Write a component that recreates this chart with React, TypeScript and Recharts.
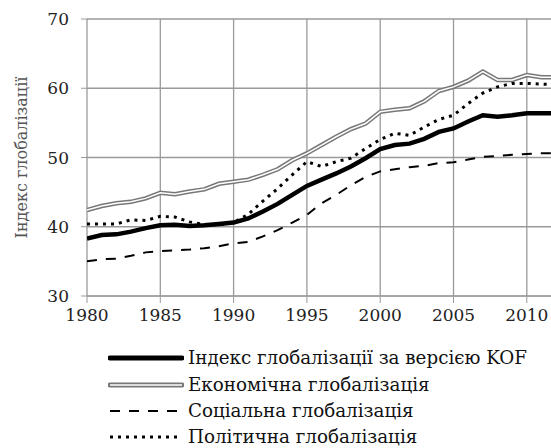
import { LineChart, Line, XAxis, YAxis, CartesianGrid } from 'recharts';

const years = [
  1980, 1981, 1982, 1983, 1984, 1985, 1986, 1987, 1988, 1989,
  1990, 1991, 1992, 1993, 1994, 1995, 1996, 1997, 1998, 1999,
  2000, 2001, 2002, 2003, 2004, 2005, 2006, 2007, 2008, 2009,
  2010, 2011, 2012,
];
const kof = [
  38.3, 38.8, 38.9, 39.3, 39.8, 40.2, 40.3, 40.1, 40.2, 40.4,
  40.6, 41.2, 42.2, 43.3, 44.6, 45.9, 46.8, 47.7, 48.7, 49.9,
  51.2, 51.8, 52.0, 52.7, 53.7, 54.2, 55.2, 56.1, 55.9, 56.1,
  56.4, 56.4, 56.4,
];
const economic = [
  42.4, 43.0, 43.4, 43.6, 44.1, 44.9, 44.7, 45.1, 45.4, 46.2,
  46.5, 46.8, 47.5, 48.3, 49.6, 50.6, 51.8, 53.0, 54.1, 54.9,
  56.6, 56.9, 57.1, 58.1, 59.6, 60.2, 61.1, 62.4, 61.2, 61.2,
  61.9, 61.6, 61.6,
];
const social = [
  35.0, 35.3, 35.4, 35.8, 36.3, 36.5, 36.6, 36.7, 36.9, 37.2,
  37.6, 37.8, 38.6, 39.5, 40.6, 41.7, 43.4, 44.6, 46.0, 47.2,
  48.0, 48.3, 48.6, 48.8, 49.2, 49.3, 49.7, 50.1, 50.2, 50.4,
  50.5, 50.6, 50.6,
];
const political = [
  40.4, 40.4, 40.4, 41.0, 40.9, 41.5, 41.4, 40.7, 40.3, 40.3,
  40.6, 41.8, 43.7, 45.5, 47.5, 49.4, 48.7, 49.4, 49.9, 51.3,
  52.6, 53.5, 53.2, 54.4, 55.5, 56.1, 57.8, 59.3, 60.2, 60.7,
  60.7, 60.6, 60.5,
];
const xTicks = [1980, 1985, 1990, 1995, 2000, 2005, 2010];
const yTicks = [30, 40, 50, 60, 70];

const legendNames = [
  'Індекс глобалізації за версією KOF',
  'Економічна глобалізація',
  'Соціальна глобалізація',
  'Політична глобалізація',
];

const data = years.map((y, i) => ({
  year: y,
  kof: kof[i],
  economic: economic[i],
  social: social[i],
  political: political[i],
}));

const font = '"DejaVu Serif", serif';

function Swatch({ kind }: { kind: number }) {
  return (
    <svg width={76} height={12} style={{ display: 'block' }}>
      {kind === 0 && <line x1={2} y1={6} x2={74} y2={6} stroke="#000" strokeWidth={5} strokeLinecap="round" />}
      {kind === 1 && (
        <>
          <line x1={2} y1={6} x2={74} y2={6} stroke="#777" strokeWidth={5} strokeLinecap="round" />
          <line x1={2} y1={6} x2={74} y2={6} stroke="#fff" strokeWidth={1.6} />
        </>
      )}
      {kind === 2 && <line x1={2} y1={6} x2={70} y2={6} stroke="#000" strokeWidth={2} strokeDasharray="10 9" />}
      {kind === 3 && <line x1={2} y1={6} x2={72} y2={6} stroke="#000" strokeWidth={3} strokeDasharray="3 5" />}
    </svg>
  );
}

export default function App() {
  return (
    <div style={{ position: 'absolute', left: 0, top: 0, width: 551, height: 448, background: '#fff', fontFamily: font }}>
      <LineChart width={551} height={448} data={data} margin={{ top: 19, right: 0, bottom: 122, left: 0 }}>
        <CartesianGrid stroke="#9a9a9a" strokeWidth={1.3} horizontalValues={yTicks} verticalValues={xTicks} />
        <XAxis
          dataKey="year"
          type="number"
          domain={[1980, 2011.65]}
          allowDataOverflow
          ticks={xTicks}
          height={30}
          tickSize={7}
          tickMargin={6}
          stroke="#9a9a9a"
          tick={{ fill: '#222', fontSize: 17, fontFamily: font }}
        />
        <YAxis
          domain={[30, 70]}
          ticks={yTicks}
          width={87}
          tickSize={6}
          tickMargin={12}
          axisLine={false}
          stroke="#9a9a9a"
          tick={{ fill: '#222', fontSize: 17, fontFamily: font }}
          label={{ value: 'Індекс глобалізації', angle: -90, position: 'insideLeft', offset: 21, style: { fill: '#555', fontSize: 16, fontFamily: font, textAnchor: 'middle' } }}
        />
        <Line dataKey="social" stroke="#000" strokeWidth={2} strokeDasharray="10 9" dot={false} isAnimationActive={false} />
        <Line dataKey="economic" stroke="#777" strokeWidth={4.5} dot={false} isAnimationActive={false} />
        <Line dataKey="economic" stroke="#fff" strokeWidth={1.5} dot={false} isAnimationActive={false} />
        <Line dataKey="political" stroke="#000" strokeWidth={3} strokeDasharray="3 5" dot={false} isAnimationActive={false} />
        <Line dataKey="kof" stroke="#000" strokeWidth={4.5} dot={false} isAnimationActive={false} />
      </LineChart>
      <div style={{ position: 'absolute', left: 108, top: 345 }}>
        {legendNames.map((n, i) => (
          <div key={n} style={{ display: 'flex', alignItems: 'center', height: 26.4 }}>
            <Swatch kind={i} />
            <span style={{ fontSize: 18.3, color: '#111', marginLeft: 4, lineHeight: '26px' }}>{n}</span>
          </div>
        ))}
      </div>
    </div>
  );
}
